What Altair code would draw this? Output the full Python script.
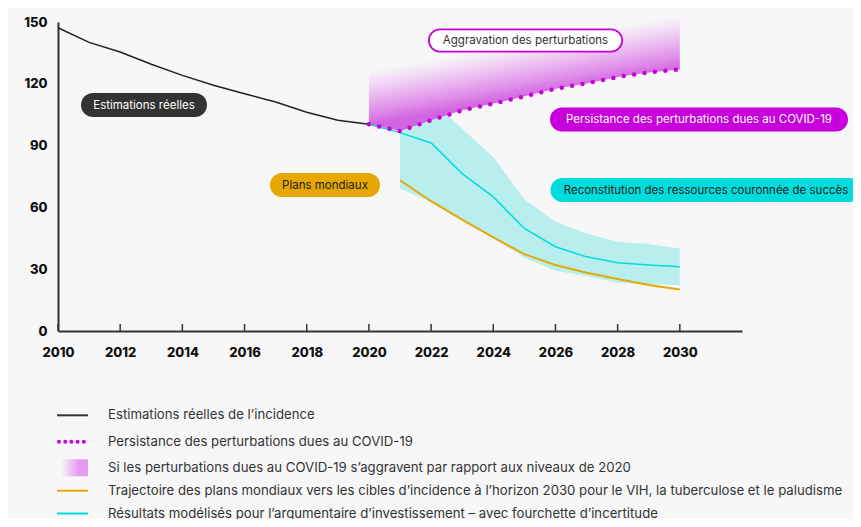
import altair as alt
import pandas as pd

# ---------------- data ----------------
hist_years = list(range(2010, 2021))
hist_incidence = [147.2, 140.1, 135.4, 129.5, 124.1, 119.3, 115.2, 111.2, 106.2, 102.3, 100.4]

proj_years = list(range(2020, 2031))
covid_persist = [100.4, 97.1, 102.3, 107.1, 110.4, 113.9, 117.6, 120.2, 123.3, 125.5, 127.0]
worsening_top = [130.0, 128.0, 133.0, 137.0, 141.0, 144.0, 148.0, 151.0, 154.0, 156.0, 158.0]
modeled = [100.4, 96.3, 91.3, 76.4, 65.1, 49.8, 40.9, 36.0, 33.1, 32.0, 31.2]

band_years = list(range(2021, 2031))
band_upper = [97.0, 112.0, 98.2, 84.5, 64.0, 53.0, 47.3, 43.3, 42.2, 40.1]
band_lower = [69.2, 62.5, 53.5, 45.0, 35.7, 29.2, 26.7, 23.4, 22.8, 22.3]
global_plan = [73.2, 63.0, 54.1, 45.4, 37.3, 32.0, 28.3, 25.2, 22.3, 20.2]

x_tick_labels = list(range(2010, 2031, 2))
y_tick_labels = [0, 30, 60, 90, 120, 150]

annotation_texts = [
    "Estimations réelles",
    "Aggravation des perturbations",
    "Persistance des perturbations dues au COVID-19",
    "Plans mondiaux",
    "Reconstitution des ressources couronnée de succès",
]
legend_texts = [
    "Estimations réelles de l\u2019incidence",
    "Persistance des perturbations dues au COVID-19",
    "Si les perturbations dues au COVID-19 s\u2019aggravent par rapport aux niveaux de 2020",
    "Trajectoire des plans mondiaux vers les cibles d\u2019incidence à l\u2019horizon 2030 pour le VIH, la tuberculose et le paludisme",
    "Résultats modélisés pour l\u2019argumentaire d\u2019investissement \u2013 avec fourchette d\u2019incertitude",
]

# ---------------- tables ----------------
hist_df = pd.DataFrame({"year": hist_years, "value": hist_incidence})
proj_df = pd.DataFrame({"year": proj_years, "value": covid_persist,
                        "top": worsening_top, "modeled": modeled})
band_df = pd.DataFrame({"year": band_years, "lower": band_lower,
                        "upper": band_upper, "plan": global_plan})
tick_df = pd.DataFrame({"year": x_tick_labels})
one = pd.DataFrame({"k": [0]})

# ---------------- style ----------------
BG = "#f7f7f7"
MAGENTA = "#c800dc"
CYAN = "#00dcdc"
ORANGE = "#e6a700"
W, H = 684, 309

xscale = alt.Scale(domain=[2010, 2032], nice=False, zero=False)
yscale = alt.Scale(domain=[0, 150], nice=False)
xaxis = alt.Axis(values=x_tick_labels, format="d", ticks=False, tickSize=0, grid=False,
                 domainColor="#333333", domainWidth=2, labelFont="Inter",
                 labelFontWeight=800, labelFontSize=13, labelColor="#111111",
                 labelPadding=15, title=None, labelFlush=False)
yaxis = alt.Axis(values=y_tick_labels, ticks=False, tickSize=0, grid=False,
                 domainColor="#333333", domainWidth=2, labelFont="Inter",
                 labelFontWeight=800, labelFontSize=13, labelColor="#111111",
                 labelPadding=11, title=None, labelFlush=False)


def X(f):
    return alt.X(f, type="quantitative", scale=xscale, axis=xaxis)


def Y(f):
    return alt.Y(f, type="quantitative", scale=yscale, axis=yaxis)


layers = []

# uncertainty band
layers.append(alt.Chart(band_df).mark_area(color="#b8efee").encode(
    x=X("year"), y=Y("lower"), y2="upper"))

# worsening gradient area (fade perpendicular to the persistence line)
grad = alt.LinearGradient(
    gradient="linear",
    stops=[alt.GradientStop(color="#d266e0", offset=0),
           alt.GradientStop(color="#df8fe9", offset=0.25),
           alt.GradientStop(color="#eab4f0", offset=0.5),
           alt.GradientStop(color="#f2d9f5", offset=0.75),
           alt.GradientStop(color=BG, offset=1)],
    x1=0.5, y1=0.73, x2=0.34, y2=0.37)
layers.append(alt.Chart(proj_df).mark_area(fill=grad).encode(
    x=X("year"), y=Y("value"), y2="top"))

# historical line
layers.append(alt.Chart(hist_df).mark_line(color="#222222", strokeWidth=1.5).encode(
    x=X("year"), y=Y("value")))

# modeled line
layers.append(alt.Chart(proj_df).mark_line(color=CYAN, strokeWidth=1.5).encode(
    x=X("year"), y=Y("modeled")))

# global plan line
layers.append(alt.Chart(band_df).mark_line(color=ORANGE, strokeWidth=2).encode(
    x=X("year"), y=Y("plan")))

# covid persistence dotted line
layers.append(alt.Chart(proj_df).mark_line(color=MAGENTA, strokeWidth=4.5, strokeCap="round",
                                           strokeDash=[0, 10.5]).encode(
    x=X("year"), y=Y("value")))

# inward x ticks
layers.append(alt.Chart(tick_df).mark_rule(color="#333333", strokeWidth=1.5).encode(
    x=X("year"), y=alt.value(H), y2=alt.value(H - 7)))

# annotation pills: (cx, cy, width, fill, text colour, border)
pill_layout = [
    (86, 83, 126, "#333333", "#ffffff", None),
    (467.5, 18.5, 195, "#ffffff", "#333333", MAGENTA),
    (641, 97.5, 298, MAGENTA, "#ffffff", None),
    (267, 163, 110, ORANGE, "#222222", None),
    (648, 168, 311, CYAN, "#222222", None),
]
for txt, (cx, cy, w, fill, tcol, border) in zip(annotation_texts, pill_layout):
    x1, x2 = cx - w / 2 + 12, cx + w / 2 - 12
    if border:
        layers.append(alt.Chart(one).mark_rule(color=border, strokeWidth=24, strokeCap="round").encode(
            x=alt.value(x1), x2=alt.value(x2), y=alt.value(cy)))
        layers.append(alt.Chart(one).mark_rule(color=fill, strokeWidth=20.5, strokeCap="round").encode(
            x=alt.value(x1), x2=alt.value(x2), y=alt.value(cy)))
    else:
        layers.append(alt.Chart(one).mark_rule(color=fill, strokeWidth=24, strokeCap="round").encode(
            x=alt.value(x1), x2=alt.value(x2), y=alt.value(cy)))
    layers.append(alt.Chart(one).mark_text(font="Inter", fontSize=11.5, color=tcol,
                                           align="center", baseline="middle").encode(
        x=alt.value(cx), y=alt.value(cy + 0.5), text=alt.value(txt)))

# custom legend
leg_y = [393.3, 419.7, 446.3, 468.7, 491.5]
layers.append(alt.Chart(one).mark_rule(color="#333333", strokeWidth=2).encode(
    x=alt.value(-1), x2=alt.value(30), y=alt.value(leg_y[0])))
layers.append(alt.Chart(one).mark_rule(color=MAGENTA, strokeWidth=4, strokeCap="round",
                                       strokeDash=[0, 6.2]).encode(
    x=alt.value(1), x2=alt.value(29), y=alt.value(leg_y[1])))
sw_grad = alt.LinearGradient(
    gradient="linear",
    stops=[alt.GradientStop(color=BG, offset=0),
           alt.GradientStop(color="#e59cef", offset=0.65),
           alt.GradientStop(color="#e59cef", offset=1)],
    x1=0, y1=0.5, x2=1, y2=0.5)
layers.append(alt.Chart(one).mark_rect(fill=sw_grad).encode(
    x=alt.value(3), x2=alt.value(30), y=alt.value(leg_y[2] - 9), y2=alt.value(leg_y[2] + 8)))
layers.append(alt.Chart(one).mark_rule(color=ORANGE, strokeWidth=2).encode(
    x=alt.value(-1), x2=alt.value(30), y=alt.value(leg_y[3])))
layers.append(alt.Chart(one).mark_rule(color=CYAN, strokeWidth=2).encode(
    x=alt.value(-1), x2=alt.value(30), y=alt.value(leg_y[4])))
for txt, yy in zip(legend_texts, leg_y):
    layers.append(alt.Chart(one).mark_text(font="Inter", fontSize=13.2, color="#333333",
                                           align="left", baseline="middle").encode(
        x=alt.value(50), y=alt.value(yy), text=alt.value(txt)))

chart = alt.layer(*layers).properties(
    width=W, height=H,
    autosize=alt.AutoSizeParams(type="none"),
    padding={"left": 50, "top": 14, "right": 111, "bottom": 188},
    background=BG,
).configure_view(stroke=None)

chart.save("out.html", embed_options={"renderer": "svg", "actions": False})
